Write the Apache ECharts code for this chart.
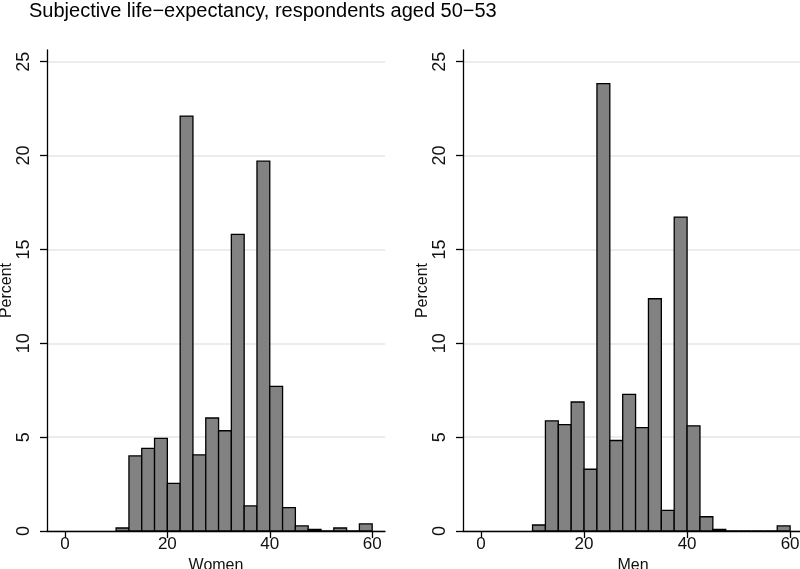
<!DOCTYPE html>
<html>
<head>
<meta charset="utf-8">
<script src="https://cdn.jsdelivr.net/npm/echarts@6/dist/echarts.min.js"></script>
<style>
html,body{margin:0;padding:0;background:#fff;}
#chart{width:800px;height:569px;}
</style>
</head>
<body>
<div id="chart"></div>
<script>
// Histogram bins (left edges), width 2.5 years
const binStarts = [10, 12.5, 15, 17.5, 20, 22.5, 25, 27.5, 30, 32.5, 35, 37.5, 40, 42.5, 45, 47.5, 50, 52.5, 55, 57.5];
const binWidth = 2.5;
const women = [0.16, 4.0, 4.4, 4.93, 2.54, 22.1, 4.06, 6.02, 5.34, 15.8, 1.34, 19.7, 7.7, 1.25, 0.27, 0.08, 0, 0.16, 0, 0.38];
const men   = [0.32, 5.87, 5.67, 6.87, 3.29, 23.83, 4.82, 7.28, 5.51, 12.37, 1.1, 16.72, 5.6, 0.76, 0.08, 0, 0, 0, 0, 0.27];
const yTicks = [0, 5, 10, 15, 20, 25];
const xTicks = [0, 20, 40, 60];
const panelNames = ['Women', 'Men'];
const titleText = 'Subjective life\u2212expectancy, respondents aged 50\u221253';

const FONT = 'Liberation Sans, Arial, Helvetica, sans-serif';
const chart = echarts.init(document.getElementById('chart'), null, {renderer: 'canvas'});

function makeData(vals) {
  return binStarts.map((s, i) => [s, s + binWidth, vals[i]]);
}

function renderItem(params, api) {
  const p0 = api.coord([api.value(0), api.value(2)]);
  const p1 = api.coord([api.value(1), 0]);
  return {
    type: 'rect',
    shape: {x: p0[0], y: p0[1], width: p1[0] - p0[0], height: p1[1] - p0[1]},
    style: {fill: '#828282', stroke: '#000', lineWidth: 1.3}
  };
}

const grids = [
  {left: 47, top: 50, width: 338, height: 481, outerBoundsMode: 'none', containLabel: false},
  {left: 463, top: 50, width: 340, height: 481, outerBoundsMode: 'none', containLabel: false}
];

const xAxes = panelNames.map((n, i) => ({
  type: 'value', gridIndex: i, min: -3.5, max: 62.5,
  name: n, nameLocation: 'middle', nameGap: 26,
  nameTextStyle: {fontFamily: FONT, fontSize: 16, color: '#111'},
  axisLine: {show: true, onZero: false, lineStyle: {color: '#000', width: 1.3}},
  axisTick: {show: true, length: 7, lineStyle: {color: '#000', width: 1.3}, customValues: xTicks},
  axisLabel: {fontFamily: FONT, fontSize: 17, color: '#111', margin: 5, customValues: xTicks},
  splitLine: {show: false}
}));

const yAxes = panelNames.map((n, i) => ({
  type: 'value', gridIndex: i, min: 0, max: 25.62,
  name: 'Percent', nameLocation: 'middle', nameGap: 29,
  nameTextStyle: {fontFamily: FONT, fontSize: 16, color: '#111'},
  axisLine: {show: true, onZero: false, lineStyle: {color: '#000', width: 1.3}},
  axisTick: {show: true, length: 7, lineStyle: {color: '#000', width: 1.3}, customValues: yTicks},
  axisLabel: {fontFamily: FONT, fontSize: 18, color: '#111', margin: 14, rotate: 90, customValues: yTicks},
  splitLine: {show: true, lineStyle: {color: '#e6e6e6', width: 1.5}}
}));

chart.setOption({
  animation: false,
  backgroundColor: '#fff',
  title: {
    text: titleText, left: 29, top: 1, padding: 0,
    textStyle: {fontFamily: FONT, fontSize: 20, fontWeight: 'normal', color: '#000'}
  },
  grid: grids,
  xAxis: xAxes,
  yAxis: yAxes,
  series: [
    {type: 'custom', xAxisIndex: 0, yAxisIndex: 0, renderItem, clip: true, data: makeData(women), encode: {x: [0, 1], y: 2}},
    {type: 'custom', xAxisIndex: 1, yAxisIndex: 1, renderItem, clip: true, data: makeData(men), encode: {x: [0, 1], y: 2}}
  ]
});
</script>
</body>
</html>
